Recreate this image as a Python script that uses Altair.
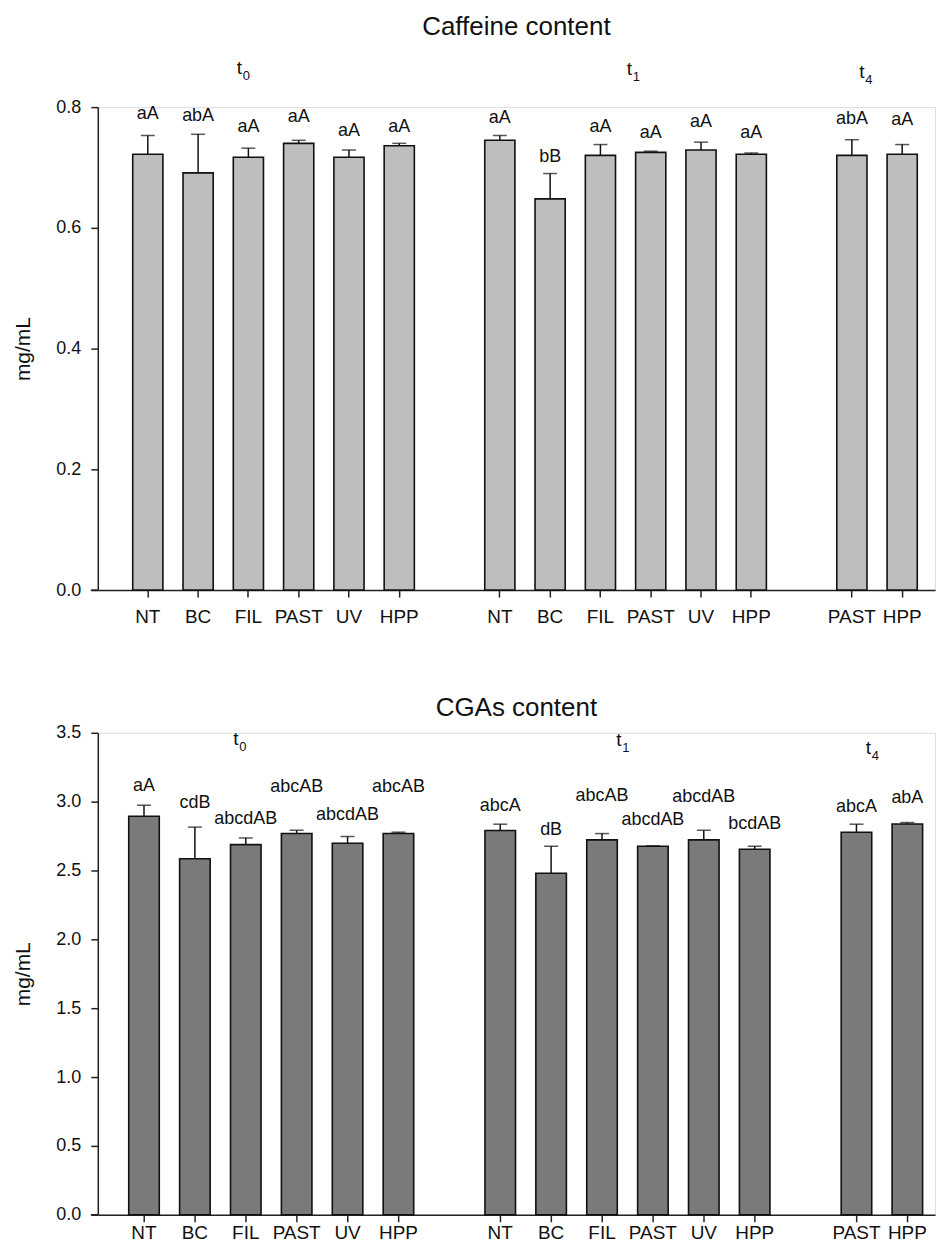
import altair as alt
import pandas as pd

# ---------------- data ----------------
times = ["t0"] * 6 + ["t1"] * 6 + ["t4"] * 2
treatments = ["NT", "BC", "FIL", "PAST", "UV", "HPP",
              "NT", "BC", "FIL", "PAST", "UV", "HPP",
              "PAST", "HPP"]

caf_mean = [0.722, 0.691, 0.717, 0.740, 0.717, 0.736,
            0.745, 0.648, 0.720, 0.725, 0.729, 0.722,
            0.720, 0.722]
caf_sd = [0.031, 0.064, 0.015, 0.005, 0.012, 0.004,
          0.008, 0.042, 0.018, 0.002, 0.013, 0.002,
          0.026, 0.016]
caf_letters = ["aA", "abA", "aA", "aA", "aA", "aA",
               "aA", "bB", "aA", "aA", "aA", "aA",
               "abA", "aA"]
caf_letter_y = [0.789, 0.785, 0.767, 0.783, 0.760, 0.767,
                0.782, 0.717, 0.767, 0.757, 0.775, 0.757,
                0.780, 0.778]

cga_mean = [2.894, 2.585, 2.688, 2.768, 2.698, 2.768,
            2.790, 2.480, 2.722, 2.676, 2.722, 2.654,
            2.778, 2.838]
cga_sd = [0.080, 0.230, 0.048, 0.024, 0.048, 0.010,
          0.046, 0.196, 0.046, 0.003, 0.070, 0.022,
          0.058, 0.010]
cga_letters = ["aA", "cdB", "abcdAB", "abcAB", "abcdAB", "abcAB",
               "abcA", "dB", "abcAB", "abcdAB", "abcdAB", "bcdAB",
               "abcA", "abA"]
cga_letter_y = [3.111, 2.990, 2.877, 3.104, 2.901, 3.104,
                2.971, 2.797, 3.043, 2.870, 3.034, 2.838,
                2.962, 3.027]

time_labels = ["t", "t", "t"]
time_subs = ["0", "1", "4"]

# ---------------- helpers ----------------
FONT = "Liberation Sans"
keys = [f"{t}|{tr}" for t, tr in zip(times, treatments)]
domain = keys[:6] + ["gap1"] + keys[6:12] + ["gap2"] + keys[12:]


def panel(mean, sd, letters, letter_y, title, ymax, yticks, fill, width, height,
          pad_outer, align, title_y, tlabel_anchor, tlabel_dx, tlabel_y,
          xlabel_pad):
    df = pd.DataFrame({"key": keys, "mean": mean, "sd": sd,
                       "letter": letters, "ly": letter_y})
    xscale = alt.Scale(domain=domain, paddingInner=0.4, paddingOuter=pad_outer, align=align)
    yscale = alt.Scale(domain=[0, ymax], nice=False, zero=True)
    xenc = alt.X("key:N", scale=xscale, title=None,
                 axis=alt.Axis(values=keys, labelExpr="split(datum.value, '|')[1]",
                               labelAngle=0, tickSize=7, labelPadding=xlabel_pad,
                               labelFontSize=19, labelFont=FONT,
                               labelColor="#111", domainColor="#222",
                               tickColor="#222", domainWidth=1.5, tickWidth=1.5,
                               grid=False))
    base = alt.Chart(df)
    bars = base.mark_bar(fill=fill, stroke="#111", strokeWidth=1.6).encode(
        x=xenc,
        y=alt.Y("mean:Q", scale=yscale, title="mg/mL",
                axis=alt.Axis(values=yticks, format=".1f", tickSize=7,
                              labelPadding=10, labelFontSize=18, labelFont=FONT,
                              labelColor="#111", titleFont=FONT, titleFontSize=21,
                              titleFontWeight="normal", titleColor="#111",
                              titlePadding=22, domainColor="#222", tickColor="#222",
                              domainWidth=1.5, tickWidth=1.5, grid=False)),
    )
    err = base.transform_calculate(top="datum.mean + datum.sd")
    rules = err.mark_rule(color="#111", strokeWidth=1.5).encode(
        x=alt.X("key:N", scale=xscale), y=alt.Y("mean:Q", scale=yscale), y2="top:Q")
    caps = err.mark_tick(color="#111", thickness=1.5, size=14).encode(
        x=alt.X("key:N", scale=xscale), y=alt.Y("top:Q", scale=yscale))
    lets = base.mark_text(font=FONT, fontSize=18, color="#111", baseline="middle").encode(
        x=alt.X("key:N", scale=xscale), y=alt.Y("ly:Q", scale=yscale), text="letter:N")
    overhang = alt.Chart(pd.DataFrame({"a": [0]})).mark_rule(color="#222", strokeWidth=1.5).encode(
        x=alt.value(-7), x2=alt.value(0), y=alt.value(height))
    ttl = alt.Chart(pd.DataFrame({"t": [title]})).mark_text(
        font=FONT, fontSize=26, color="#111", baseline="middle").encode(
        text="t:N", x=alt.value(width / 2), y=alt.value(title_y))
    layers = [bars, rules, caps, lets, overhang, ttl]
    for lab, sub, anc, dx, ty in zip(time_labels, time_subs, tlabel_anchor, tlabel_dx, tlabel_y):
        d = pd.DataFrame({"key": [anc], "lab": [lab], "sub": [sub]})
        layers.append(alt.Chart(d).mark_text(font=FONT, fontSize=19, color="#111",
                                             baseline="middle", dx=dx).encode(
            x=alt.X("key:N", scale=xscale), y=alt.value(ty), text="lab:N"))
        layers.append(alt.Chart(d).mark_text(font=FONT, fontSize=13, color="#111",
                                             baseline="middle", dx=dx + 7).encode(
            x=alt.X("key:N", scale=xscale), y=alt.value(ty + 8), text="sub:N"))
    return alt.layer(*layers).properties(width=width, height=height)


top = panel(caf_mean, caf_sd, caf_letters, caf_letter_y, "Caffeine content", 0.8,
            [0.0, 0.2, 0.4, 0.6, 0.8], "#BEBEBE", 839, 484, 0.5235, 0.663, -80,
            ["t0|FIL", "t1|FIL", "t4|PAST"], [-9, 29, 10], [-39, -38, -35], 10)
bottom = panel(cga_mean, cga_sd, cga_letters, cga_letter_y, "CGAs content", 3.5,
               [0.0, 0.5, 1.0, 1.5, 2.0, 2.5, 3.0, 3.5], "#7A7A7A", 839, 483,
               0.4255, 0.714, -25,
               ["t0|FIL", "t1|FIL", "t4|PAST"], [-10, 17, 12], [6, 7, 15], 2)

chart = alt.vconcat(top, bottom, spacing=67).properties(
    padding={"left": 4, "top": 4, "right": 0, "bottom": 0}
).configure_view(stroke=None).configure(font=FONT)

chart.save("out.html", embed_options={"renderer": "svg", "actions": False})
